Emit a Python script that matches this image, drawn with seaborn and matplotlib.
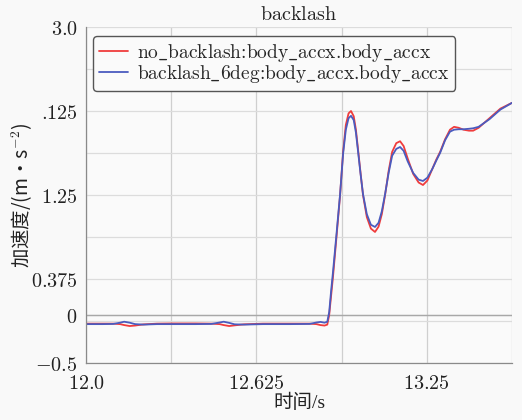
import numpy as np
import pandas as pd
import matplotlib
matplotlib.use("Agg")
import matplotlib.pyplot as plt
import seaborn as sns

# ---- data ----
t = [12.000, 12.060, 12.100, 12.125, 12.140, 12.160, 12.180, 12.210, 12.260, 12.320,
     12.400, 12.460, 12.490, 12.505, 12.525, 12.545, 12.580, 12.650, 12.750, 12.820,
     12.845, 12.860, 12.875, 12.885, 12.892, 12.899, 12.906, 12.919, 12.932, 12.943,
     12.953, 12.963, 12.972, 12.982, 12.990, 12.998, 13.007, 13.016, 13.030, 13.045,
     13.060, 13.073, 13.085, 13.097, 13.110, 13.123, 13.138, 13.152, 13.165, 13.180,
     13.200, 13.220, 13.236, 13.252, 13.270, 13.285, 13.299, 13.317, 13.335, 13.350,
     13.367, 13.385, 13.405, 13.420, 13.440, 13.460, 13.480, 13.500, 13.520, 13.5625]

no_backlash = [-0.090, -0.090, -0.090, -0.095, -0.105, -0.115, -0.110, -0.098, -0.090, -0.088,
               -0.088, -0.090, -0.095, -0.105, -0.115, -0.108, -0.097, -0.090, -0.090, -0.090,
               -0.095, -0.105, -0.110, -0.100, 0.000, 0.200, 0.400, 0.820, 1.250, 1.700,
               1.980, 2.100, 2.125, 2.070, 1.930, 1.720, 1.480, 1.250, 1.020, 0.900,
               0.865, 0.920, 1.050, 1.250, 1.500, 1.700, 1.790, 1.810, 1.760, 1.630,
               1.470, 1.380, 1.354, 1.400, 1.520, 1.620, 1.700, 1.830, 1.930, 1.960,
               1.950, 1.930, 1.920, 1.920, 1.950, 2.000, 2.050, 2.100, 2.150, 2.210]

backlash_6deg = [-0.095, -0.095, -0.093, -0.080, -0.070, -0.080, -0.095, -0.100, -0.095, -0.095,
                 -0.095, -0.093, -0.078, -0.070, -0.082, -0.097, -0.100, -0.095, -0.095, -0.093,
                 -0.078, -0.072, -0.080, -0.070, 0.030, 0.250, 0.450, 0.850, 1.260, 1.680,
                 1.930, 2.050, 2.075, 2.030, 1.900, 1.700, 1.470, 1.260, 1.050, 0.940,
                 0.917, 0.960, 1.080, 1.260, 1.480, 1.660, 1.730, 1.750, 1.710, 1.600,
                 1.480, 1.410, 1.396, 1.430, 1.520, 1.610, 1.690, 1.820, 1.910, 1.930,
                 1.935, 1.935, 1.940, 1.945, 1.960, 2.000, 2.040, 2.090, 2.140, 2.210]

series_names = ["no_backlash:body_accx.body_accx", "backlash_6deg:body_accx.body_accx"]
colors = ["#f03c3c", "#4a5bbf"]

xticks = [12.0, 12.3125, 12.625, 12.9375, 13.25, 13.5625]
xticklabels = ["12.0", "", "12.625", "", "13.25", ""]
yticks = [3.0, 2.5625, 2.125, 1.6875, 1.25, 0.8125, 0.375, 0.0, -0.0625, -0.5]
yticklabels = ["3.0", "", ".125", "", "1.25", "", "0.375", "0", "", "-0.5"]


def cm(s):
    """Render plain text in Computer Modern via mathtext \\text{}."""
    if s == "":
        return ""
    prefix = ""
    if s.startswith("-"):
        prefix, s = "-", s[1:]
    parts = [r"\text{" + p + "}" if p else "" for p in s.split("_")]
    return "$" + prefix + r"\_".join(parts) + "$"


df = pd.concat([
    pd.DataFrame({"t": t, "v": no_backlash, "series": series_names[0]}),
    pd.DataFrame({"t": t, "v": backlash_6deg, "series": series_names[1]}),
])

sns.set_theme(style="white")
plt.rcParams["mathtext.fontset"] = "cm"
plt.rcParams["font.family"] = ["Noto Sans CJK SC", "DejaVu Sans"]
label_family = ["Liberation Serif", "Noto Sans CJK SC", "DejaVu Sans"]

fig = plt.figure(figsize=(5.22, 4.2), dpi=100, facecolor="#f9f9f9")
ax = fig.add_axes([86 / 522, 1 - 363 / 420, (512 - 86) / 522, (363 - 27) / 420])
ax.set_facecolor("#fafafa")

sns.lineplot(data=df, x="t", y="v", hue="series", hue_order=series_names,
             palette=colors, linewidth=1.3, ax=ax, sort=False)

ax.set_xlim(12.0, 13.5625)
ax.set_ylim(-0.5, 3.0)
ax.set_xticks(xticks)
ax.set_xticklabels([cm(s) for s in xticklabels], fontsize=14.5)
ax.set_yticks(yticks)
ax.set_yticklabels([cm(s) for s in yticklabels], fontsize=14.5)
ax.tick_params(axis="both", direction="out", length=5, width=0.8, color="#888888",
               pad=1, labelcolor="#222222")
ax.tick_params(axis="x", pad=2)

ax.grid(True, axis="y", color="#dcdcdc", linewidth=0.9)
ax.grid(True, axis="x", color="#cfcfcf", linewidth=0.9)
ax.axhline(0, color="#a8a8a8", linewidth=1.0, zorder=1)

for side in ["top", "right"]:
    ax.spines[side].set_visible(False)
for side in ["left", "bottom"]:
    ax.spines[side].set_color("#8a8a8a")
    ax.spines[side].set_linewidth(0.9)

ax.set_title(cm("backlash"), fontsize=14.5, pad=5, color="#222222")
ax.set_xlabel("时间/s", fontsize=14, labelpad=0, color="#222222", family=label_family)
ax.set_ylabel("加速度/(m・s$^{-2}$)", fontsize=14, labelpad=-2.5, color="#222222",
              family=["Noto Sans CJK SC", "DejaVu Sans"])

handles, _ = ax.get_legend_handles_labels()
leg = ax.legend(handles[:2], [cm(s) for s in series_names], loc="upper left",
                bbox_to_anchor=(0.008, 0.985), fontsize=14, handlelength=1.5,
                handletextpad=0.45, labelspacing=-0.05, borderpad=0.3,
                frameon=True, fancybox=True, framealpha=1.0,
                edgecolor="#555555", facecolor="#fafafa", borderaxespad=0.2)
leg.get_frame().set_linewidth(1.0)

fig.savefig("out.png", dpi=100, facecolor=fig.get_facecolor())
